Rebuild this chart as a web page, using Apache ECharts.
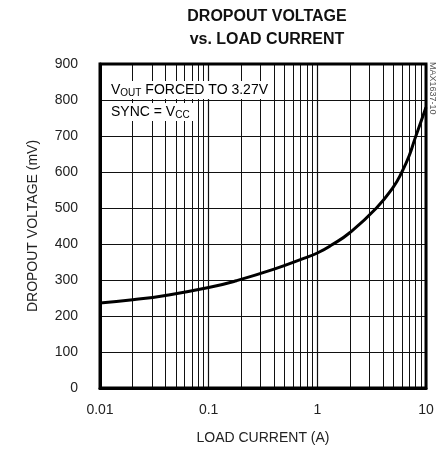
<!DOCTYPE html>
<html><head><meta charset="utf-8">
<script src="https://cdn.jsdelivr.net/npm/echarts@6/dist/echarts.min.js"></script>
<style>html,body{margin:0;padding:0;background:#fff}#c{width:441px;height:456px}</style>
</head><body><div id="c"></div>
<script>
const loadCurrent = [0.01, 0.02, 0.04, 0.1, 0.18, 0.4, 0.75, 1, 1.35, 2, 3.5, 5, 6, 7, 7.9, 9, 10];
const dropoutMv  = [236, 245, 257, 279, 298, 330, 360, 375, 397, 432, 500, 558, 600, 645, 692, 740, 780];
const xTickLabels = ['0.01', '0.1', '1', '10'];
const yTicks = [0, 100, 200, 300, 400, 500, 600, 700, 800, 900];
const minorX = [];
[0.01, 0.1, 1].forEach(d => { for (let k = 2; k <= 9; k++) minorX.push(+(d * k).toPrecision(3)); });

const F = '"Liberation Sans Narrow", "Liberation Sans", Arial, sans-serif';
const chart = echarts.init(document.getElementById('c'));
chart.setOption({
  animation: false,
  title: {
    text: 'DROPOUT VOLTAGE\nvs. LOAD CURRENT', left: 262, top: 0, textAlign: 'center',
    textStyle: { fontFamily: F, fontWeight: 'bold', fontSize: 16, lineHeight: 23, color: '#111' }
  },
  grid: { left: 100, right: 15, top: 64, bottom: 68 },
  xAxis: {
    type: 'log', logBase: 10, min: 0.01, max: 10,
    name: 'LOAD CURRENT (A)', nameLocation: 'middle', nameGap: 43,
    nameTextStyle: { fontFamily: F, fontSize: 14, color: '#222' },
    axisLine: { show: true, lineStyle: { color: '#000', width: 3 } },
    axisTick: { show: false },
    axisLabel: { fontFamily: F, fontSize: 14, color: '#222', margin: 15,
      formatter: v => xTickLabels.find(t => Math.abs(+t - v) < 1e-9) || '' },
    splitLine: { show: true, lineStyle: { color: '#111', width: 1.2 } }
  },
  yAxis: {
    type: 'value', min: 0, max: 900, interval: 100,
    name: 'DROPOUT VOLTAGE (mV)', nameLocation: 'middle', nameGap: 60,
    nameTextStyle: { fontFamily: F, fontSize: 14, color: '#222' },
    axisLine: { show: true, lineStyle: { color: '#000', width: 3 } },
    axisTick: { show: false },
    axisLabel: { fontFamily: F, fontSize: 14, color: '#222', margin: 22,
      formatter: v => yTicks.includes(v) ? String(v) : '' },
    splitLine: { show: true, lineStyle: { color: '#111', width: 1 } }
  },
  graphic: [
    { type: 'rect', shape: { x: 100, y: 64, width: 326, height: 324 },
      style: { fill: 'none', stroke: '#000', lineWidth: 3 }, z: 100 },
    { type: 'text', left: 103, top: 81, z: 50,
      style: { text: '{n|V}{s|OUT}{n| FORCED TO 3.27V}', backgroundColor: '#fff', padding: [1, 4, 1, 8],
        rich: { n: { fontFamily: F, fontSize: 14, color: '#222' },
                s: { fontFamily: F, fontSize: 10, color: '#222', verticalAlign: 'bottom', padding: [6, 0, 0, 0] } } } },
    { type: 'text', left: 103, top: 103, z: 50,
      style: { text: '{n|SYNC = V}{s|CC}', backgroundColor: '#fff', padding: [1, 4, 1, 8],
        rich: { n: { fontFamily: F, fontSize: 14, color: '#222' },
                s: { fontFamily: F, fontSize: 10, color: '#222', verticalAlign: 'bottom', padding: [6, 0, 0, 0] } } } },
    { type: 'text', x: 432, y: 62, rotation: -Math.PI / 2, z: 50,
      style: { text: 'MAX1637-10', fontFamily: F, fontSize: 9, fill: '#555', align: 'left', verticalAlign: 'middle' } }
  ],
  series: [
    { type: 'line', data: loadCurrent.map((x, i) => [x, dropoutMv[i]]), smooth: 0.5, symbol: 'none',
      lineStyle: { color: '#000', width: 3 }, z: 10 },
    { type: 'line', data: [], silent: true,
      markLine: { silent: true, symbol: 'none', label: { show: false },
        lineStyle: { color: '#111', width: 1, type: 'solid' },
        data: minorX.map(v => ({ xAxis: v })) } }
  ]
});
</script></body></html>
